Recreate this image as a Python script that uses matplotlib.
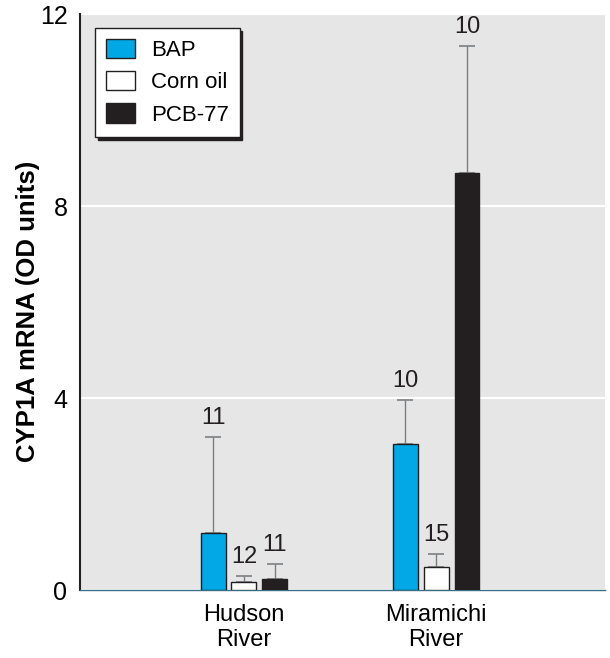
import matplotlib.pyplot as plt
import numpy as np

plt.rcParams['font.family'] = ['Liberation Sans', 'DejaVu Sans']

sites = ["Hudson\nRiver", "Miramichi\nRiver"]
treatments = ["BAP", "Corn oil", "PCB-77"]
colors = ["#00a9e6", "#ffffff", "#231f20"]

# mean and upper error per treatment, one value per site
bap_mean = [1.19, 3.04]
bap_err = [2.0, 0.92]
corn_mean = [0.17, 0.48]
corn_err = [0.12, 0.27]
pcb_mean = [0.23, 8.69]
pcb_err = [0.31, 2.64]
bap_n = [11, 10]
corn_n = [12, 15]
pcb_n = [11, 10]

means = [bap_mean, corn_mean, pcb_mean]
errs = [bap_err, corn_err, pcb_err]
counts = [bap_n, corn_n, pcb_n]

fig = plt.figure(figsize=(6.1, 6.58), dpi=100)
ax = fig.add_axes([0.131, 0.1033, 0.861, 0.8754])
ax.set_facecolor("#e6e6e6")

x = np.arange(len(sites))
step = 0.161
width = 0.13
for i, name in enumerate(treatments):
    pos = x + (i - 1) * step
    ax.bar(pos, means[i], width, color=colors[i], edgecolor="#231f20",
           linewidth=1.0, label=name, zorder=3)
    ax.errorbar(pos, means[i], yerr=[np.zeros(len(x)), errs[i]], fmt="none",
                ecolor="#7a7f82", elinewidth=1.0, capsize=6, capthick=1.2, zorder=2)
    for p, m, e, n in zip(pos, means[i], errs[i], counts[i]):
        ax.text(p, m + e + 0.17, str(n), ha="center", va="bottom",
                fontsize=17, color="#231f20")

ax.set_xlim(-0.854, 1.88)
ax.set_ylim(0, 12)
ax.set_yticks([0, 4, 8, 12])
ax.yaxis.grid(True, color="white", linewidth=1.5, zorder=0)
ax.set_axisbelow(True)
ax.tick_params(axis="y", length=0, labelsize=18, pad=9)
ax.tick_params(axis="x", length=0, labelsize=17, pad=10)
ax.set_xticks(x)
ax.set_xticklabels(sites, linespacing=1.2)

for s in ["top", "right"]:
    ax.spines[s].set_visible(False)
ax.spines["left"].set_color("#231f20")
ax.spines["left"].set_linewidth(1.5)
ax.spines["bottom"].set_color("#3a6f88")
ax.spines["bottom"].set_linewidth(1.0)

ax.set_ylabel("CYP1A mRNA (OD units)", fontsize=18.5, fontweight="bold", va="center")
ax.yaxis.set_label_coords(-0.099, 0.483)

leg = ax.legend(loc="upper left", bbox_to_anchor=(0.029, 0.976), borderaxespad=0,
                fontsize=16, fancybox=False, edgecolor="#231f20", framealpha=1,
                shadow={"color": "#231f20", "alpha": 1},
                handlelength=1.3, handleheight=0.95, borderpad=0.5,
                labelspacing=0.45, handletextpad=0.7)
leg.get_frame().set_linewidth(1.0)

fig.savefig("out.png", dpi=100)
